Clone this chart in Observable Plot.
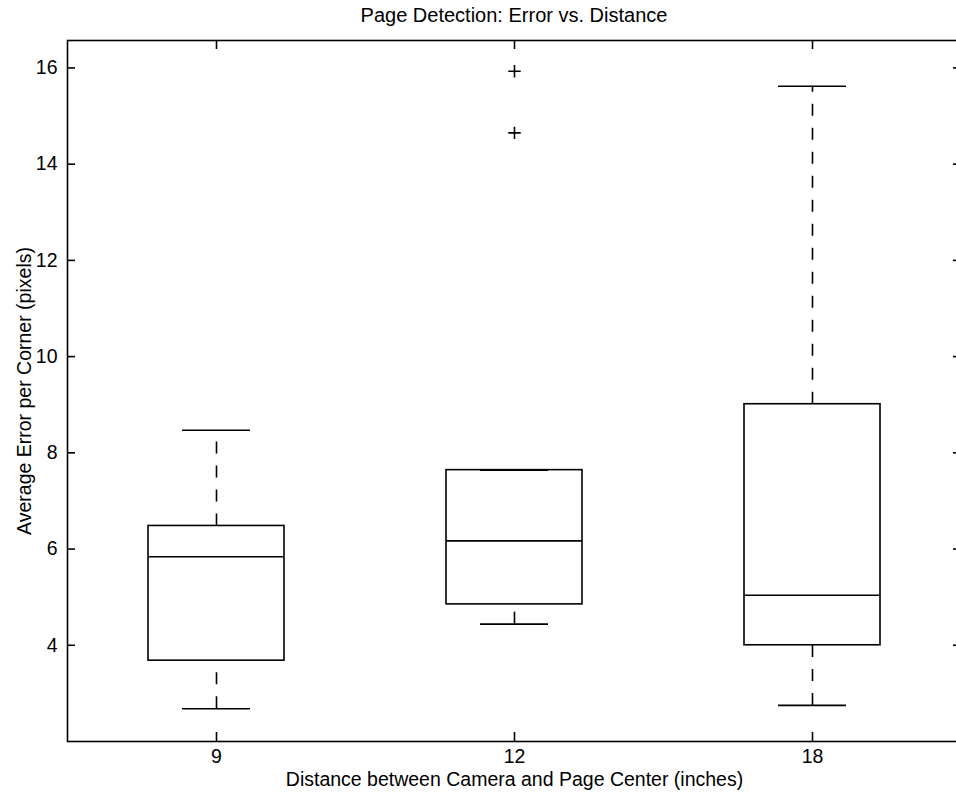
<!DOCTYPE html>
<html><head><meta charset="utf-8">
<script src="https://cdn.jsdelivr.net/npm/d3@7"></script>
<script src="https://cdn.jsdelivr.net/npm/@observablehq/plot@0.6"></script>
<style>
html,body{margin:0;padding:0;background:#fff;overflow:hidden;}
#wrap{position:relative;width:956px;height:793px;overflow:hidden;font-family:"Liberation Sans",Arial,Helvetica,sans-serif;}
#title{position:absolute;left:67px;width:894px;top:3px;text-align:center;font-size:20px;line-height:24px;color:#000;}
#chart{position:absolute;left:0;top:30px;}
</style></head><body>
<div id="wrap"><div id="title">Page Detection: Error vs. Distance</div><div id="chart"></div></div>
<script>
const distances = ["9", "12", "18"];
const lowerWhisker = [2.68, 4.44, 2.75];
const lowerQuartile = [3.68, 4.85, 4.00];
const medianValue = [5.84, 6.17, 5.04];
const upperQuartile = [6.48, 7.64, 9.01];
const upperWhisker = [8.47, 7.64, 15.62];
const outlierDistance = ["12", "12"];
const outlierValue = [15.93, 14.65];
const yTicks = [4, 6, 8, 10, 12, 14, 16];
const xLabel = "Distance between Camera and Page Center (inches)";
const yLabel = "Average Error per Corner (pixels)";

const boxes = distances.map((d, i) => ({distance: d, lo: lowerWhisker[i], q1: lowerQuartile[i], med: medianValue[i], q3: upperQuartile[i], hi: upperWhisker[i]}));
const outliers = outlierDistance.map((d, i) => ({distance: d, value: outlierValue[i]}));

const fs = 19.5;
const W = 970, H = 763, ML = 67, MR = 9, MT = 10, MB = 52;
const innerW = W - ML - MR, innerH = H - MT - MB;
const line = {stroke: "black", strokeWidth: 1.6};
const chart = Plot.plot({
  width: W, height: H,
  marginLeft: ML, marginRight: MR, marginTop: MT, marginBottom: MB,
  style: {fontFamily: '"Liberation Sans", Arial, Helvetica, sans-serif', fontSize: "19.5px", color: "black", background: "white", maxWidth: "none", overflow: "visible"},
  x: {type: "band", domain: distances, paddingInner: 0.5436, paddingOuter: 0.2718, axis: null},
  y: {domain: [2.0, 16.57], axis: null},
  marks: [
    Plot.ruleX(boxes, {x: "distance", y1: "lo", y2: "q1", ...line, strokeDasharray: "12,12"}),
    Plot.ruleX(boxes, {x: "distance", y1: "q3", y2: "hi", ...line, strokeDasharray: "12,12"}),
    Plot.tickY(boxes, {x: "distance", y: "lo", insetLeft: 34, insetRight: 34, ...line}),
    Plot.tickY(boxes, {x: "distance", y: "hi", insetLeft: 34, insetRight: 34, ...line}),
    Plot.barY(boxes, {x: "distance", y1: "q1", y2: "q3", fill: "none", ...line}),
    Plot.tickY(boxes, {x: "distance", y: "med", ...line}),
    Plot.dot(outliers, {x: "distance", y: "value", symbol: "plus", r: 4.1, ...line}),
    Plot.frame({...line}),
    // inward ticks
    Plot.tickY(yTicks, {y: d => d, insetRight: innerW - 8, ...line}),
    Plot.tickY(yTicks, {y: d => d, insetLeft: innerW - 8, ...line}),
    Plot.tickX(distances, {x: d => d, insetTop: innerH - 9, ...line}),
    Plot.tickX(distances, {x: d => d, insetBottom: innerH - 9, ...line}),
    // tick labels
    Plot.text(yTicks, {y: d => d, text: d => String(d), frameAnchor: "left", dx: -10, textAnchor: "end", lineAnchor: "middle", fontSize: fs}),
    Plot.text(distances, {x: d => d, text: d => d, frameAnchor: "bottom", dy: 15, textAnchor: "middle", lineAnchor: "middle", fontSize: fs}),
    // axis labels
    Plot.text([xLabel], {frameAnchor: "bottom", dy: 38, lineAnchor: "middle", textAnchor: "middle", fontSize: fs}),
    Plot.text([yLabel], {frameAnchor: "left", dx: -43, rotate: -90, lineAnchor: "middle", textAnchor: "middle", fontSize: fs})
  ]
});
document.getElementById("chart").appendChild(chart);
</script>
</body></html>
